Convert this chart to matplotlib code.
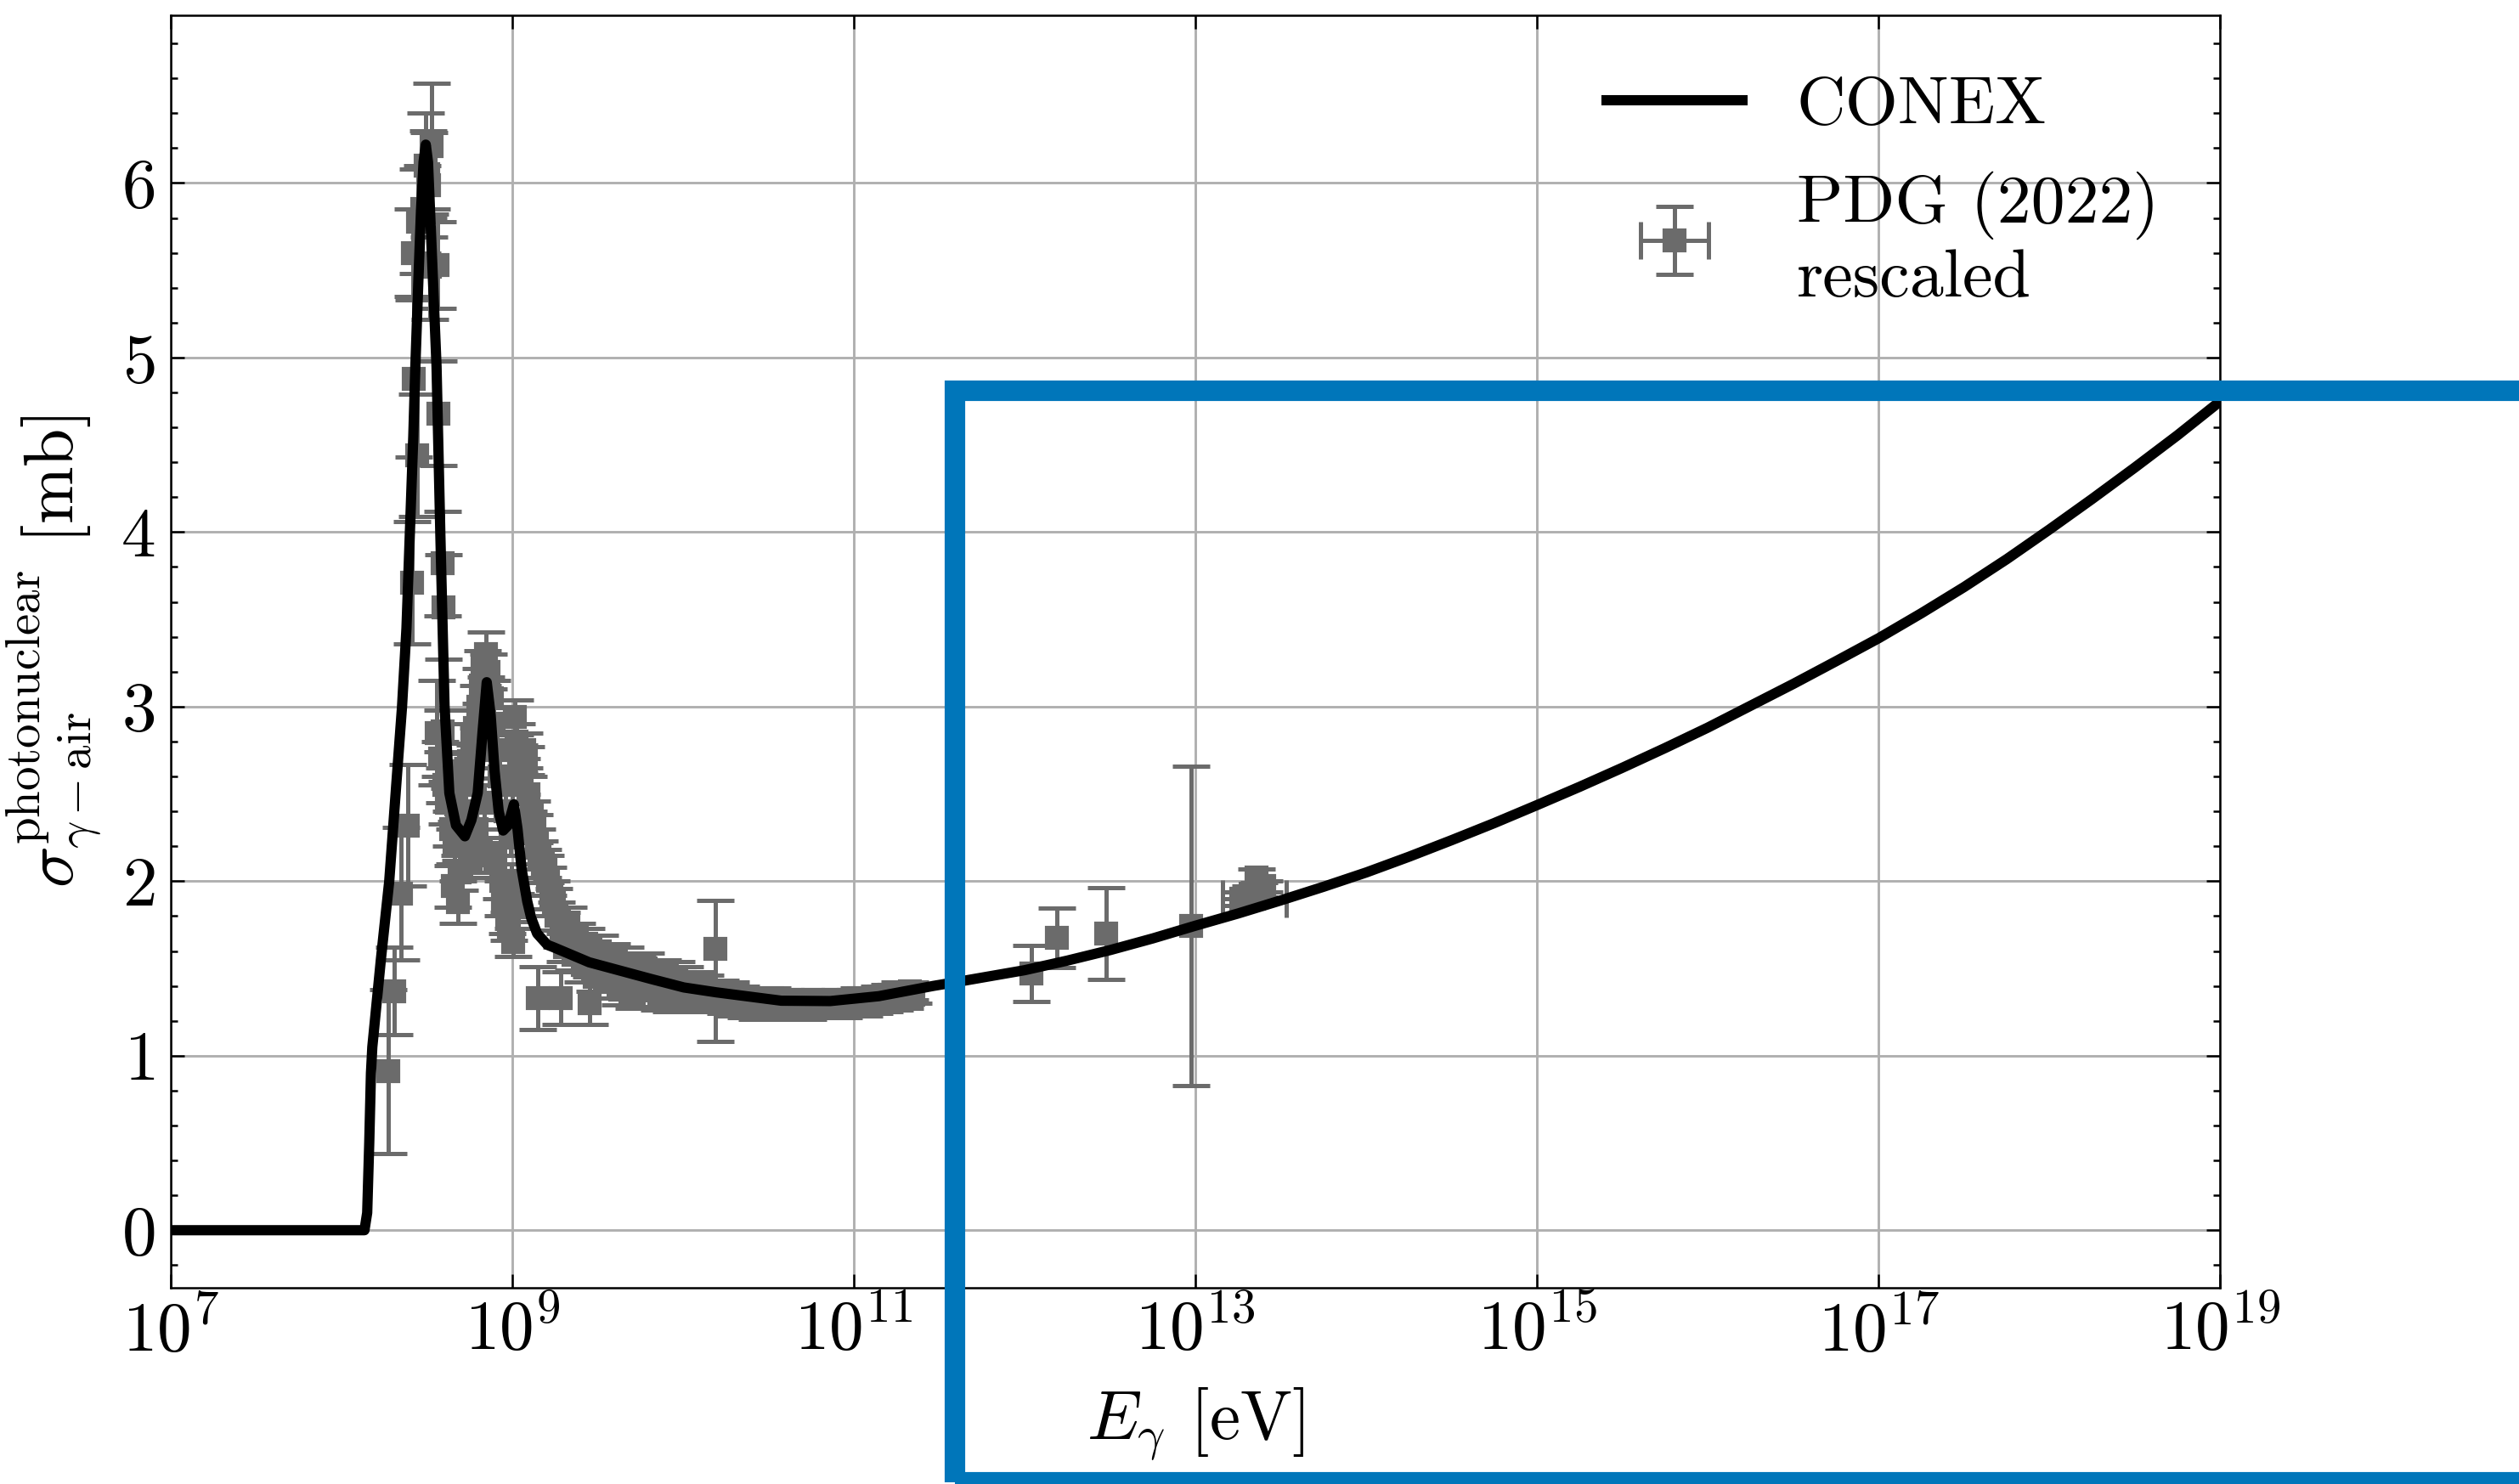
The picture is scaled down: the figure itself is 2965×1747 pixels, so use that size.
import numpy as np
import matplotlib
matplotlib.use("Agg")
import matplotlib.pyplot as plt
from matplotlib.ticker import AutoMinorLocator, FixedLocator, NullLocator
from matplotlib.patches import Rectangle

plt.rcParams.update({
    "font.family": "serif",
    "font.serif": ["cmr10"],
    "mathtext.fontset": "cm",
    "axes.formatter.use_mathtext": True,
    "axes.unicode_minus": False,
    "font.size": 19.5,
})

# ---------------- data ----------------
# CONEX photonuclear cross section (log10 E [eV], sigma [mb])
conex_log10_E = [7.000, 8.134, 8.150, 8.162, 8.172, 8.180, 8.230, 8.279, 8.320, 8.354,
                 8.380, 8.400, 8.420, 8.432, 8.450, 8.465, 8.480, 8.493, 8.506, 8.518,
                 8.537, 8.556, 8.578, 8.603, 8.631, 8.670, 8.722, 8.760, 8.797, 8.825,
                 8.850, 8.873, 8.896, 8.920, 8.946, 8.975, 9.009, 9.030, 9.054, 9.087,
                 9.110, 9.145, 9.205, 9.244, 9.450, 9.814, 10.004, 10.194, 10.575, 10.861,
                 11.146, 11.466, 11.589, 12.00, 12.25, 12.50, 12.75, 13.00, 13.25, 13.50,
                 13.75, 14.00, 14.25, 14.50, 14.75, 15.00, 15.25, 15.50, 15.75, 16.00,
                 16.25, 16.50, 16.75, 17.00, 17.25, 17.50, 17.75, 18.00, 18.25, 18.50,
                 18.75, 19.00]
conex_sigma = [0.00, 0.00, 0.10, 0.50, 0.90, 1.05, 1.55, 2.00, 2.55, 3.00,
               3.45, 4.00, 4.55, 4.95, 5.45, 5.84, 6.12, 6.22, 6.12, 5.84,
               5.40, 4.95, 4.00, 3.00, 2.505, 2.32, 2.257, 2.35, 2.505, 2.85,
               3.14, 2.95, 2.63, 2.40, 2.29, 2.32, 2.44, 2.30, 2.07, 1.885,
               1.79, 1.70, 1.635, 1.62, 1.535, 1.439, 1.391, 1.363, 1.315, 1.313,
               1.341, 1.40, 1.42, 1.49, 1.545, 1.605, 1.672, 1.745, 1.815, 1.89,
               1.968, 2.05, 2.14, 2.235, 2.333, 2.436, 2.541, 2.65, 2.763, 2.88,
               3.005, 3.13, 3.26, 3.392, 3.535, 3.685, 3.845, 4.015, 4.19, 4.37,
               4.555, 4.75]

# PDG (2022) rescaled data (log10 E [eV], sigma [mb], symmetric error [mb])
pdg_log10_E = [
    8.275, 8.310, 8.350, 8.390, 8.412, 8.424, 8.441, 8.419, 8.445, 8.470,
    8.494, 8.505, 8.512, 8.527, 8.515, 8.560, 8.565, 8.590, 8.598,
    8.556, 8.575, 8.590, 8.600, 8.615, 8.630, 8.640, 8.650, 8.660, 8.672,
    8.681, 8.690, 8.697, 8.710, 8.720, 8.735, 8.747, 8.755, 8.765, 8.781,
    8.790, 8.800, 8.814, 8.825, 8.835, 8.847, 8.858, 8.870, 8.880, 8.890,
    8.900, 8.912, 8.925, 8.935, 8.946, 8.958, 8.968, 8.979, 8.990, 8.995,
    9.000, 9.005, 9.013, 9.020, 9.025, 9.040, 9.055, 9.068, 9.079, 9.095,
    9.112, 9.128, 9.146, 9.160, 9.178, 9.195, 9.210, 9.228, 9.245,
    9.148, 9.281, 9.452,
    9.26, 9.29, 9.31, 9.33, 9.36, 9.38, 9.41, 9.43, 9.46, 9.48,
    9.51, 9.53, 9.56, 9.58, 9.61, 9.63, 9.66, 9.68, 9.71, 9.73,
    9.76, 9.78, 9.81, 9.83, 9.86, 9.88, 9.91, 9.93, 9.96, 9.98,
    10.01, 10.04, 10.07, 10.10, 10.13, 10.16, 10.22, 10.25, 10.28, 10.31,
    10.34, 10.37, 10.40, 10.43, 10.46, 10.49, 10.52, 10.55, 10.58, 10.61,
    10.64, 10.67, 10.70, 10.73, 10.76, 10.79, 10.82, 10.85, 10.88, 10.91,
    10.94, 10.97, 11.00, 11.03, 11.06, 11.09, 11.12, 11.15, 11.18, 11.21,
    11.24, 11.27, 11.30, 11.33, 11.35,
    12.037, 12.187, 12.477, 12.975, 13.27, 13.32, 13.355, 13.37, 13.40,
]
pdg_sigma = [
    0.91, 1.37, 1.93, 2.32, 3.71, 4.88, 4.44, 5.60, 5.78, 5.85,
    6.10, 6.05, 5.99, 6.21, 5.52, 5.53, 4.68, 3.82, 3.57,
    2.85, 2.70, 2.86, 2.55, 2.45, 2.63, 2.30, 1.97, 2.20, 2.44,
    1.88, 2.05, 2.22, 2.40, 2.55, 2.35, 2.69, 2.12, 2.80, 2.88,
    2.30, 3.00, 3.12, 3.22, 2.45, 3.30, 3.20, 2.15, 3.05, 2.90,
    2.12, 2.75, 2.60, 2.00, 1.90, 2.40, 1.80, 1.74, 2.25, 2.00,
    2.55, 1.65, 2.94, 1.85, 2.80, 2.70, 2.60, 2.75, 2.69, 2.50,
    2.38, 2.30, 2.22, 2.15, 2.10, 2.07, 2.00, 1.92, 1.88,
    1.33, 1.33, 1.30,
    1.80, 1.72, 1.62, 1.75, 1.58, 1.68, 1.52, 1.64, 1.55, 1.45,
    1.60, 1.50, 1.42, 1.56, 1.47, 1.38, 1.52, 1.44, 1.36, 1.48,
    1.40, 1.50, 1.38, 1.45, 1.35, 1.47, 1.40, 1.33, 1.44, 1.37,
    1.42, 1.34, 1.40, 1.32, 1.38, 1.33, 1.36, 1.30, 1.35, 1.29,
    1.33, 1.28, 1.32, 1.27, 1.31, 1.29, 1.33, 1.28, 1.31, 1.27,
    1.32, 1.29, 1.31, 1.27, 1.32, 1.29, 1.31, 1.28, 1.32, 1.30,
    1.28, 1.32, 1.30, 1.33, 1.29, 1.32, 1.30, 1.34, 1.31, 1.35,
    1.32, 1.36, 1.33, 1.37, 1.35,
    1.47, 1.675, 1.70, 1.745, 1.90, 1.93, 2.02, 1.95, 1.97,
]
pdg_err = [
    0.47, 0.25, 0.38, 0.35, 0.35, 0.45, 0.35, 0.25, 0.30, 0.25,
    0.30, 0.25, 0.30, 0.36, 0.30, 0.25, 0.30, 0.30, 0.30,
    0.30, 0.10, 0.12, 0.10, 0.12, 0.10, 0.10, 0.12, 0.10, 0.10,
    0.12, 0.10, 0.10, 0.10, 0.10, 0.10, 0.10, 0.10, 0.10, 0.10,
    0.10, 0.12, 0.10, 0.10, 0.10, 0.13, 0.10, 0.10, 0.10, 0.10,
    0.10, 0.10, 0.10, 0.10, 0.10, 0.10, 0.10, 0.08, 0.10, 0.10,
    0.10, 0.08, 0.10, 0.08, 0.10, 0.08, 0.10, 0.10, 0.08, 0.10,
    0.08, 0.08, 0.08, 0.08, 0.08, 0.08, 0.08, 0.08, 0.08,
    0.18, 0.15, 0.12,
    0.08, 0.10, 0.08, 0.10, 0.09, 0.08, 0.10, 0.09, 0.10, 0.08,
    0.09, 0.10, 0.09, 0.08, 0.10, 0.09, 0.10, 0.08, 0.09, 0.10,
    0.08, 0.09, 0.10, 0.08, 0.09, 0.08, 0.09, 0.08, 0.10, 0.08,
    0.09, 0.08, 0.08, 0.07, 0.08, 0.07, 0.07, 0.06, 0.07, 0.06,
    0.07, 0.06, 0.06, 0.06, 0.06, 0.06, 0.06, 0.06, 0.06, 0.06,
    0.06, 0.06, 0.06, 0.06, 0.06, 0.06, 0.06, 0.06, 0.06, 0.06,
    0.06, 0.06, 0.06, 0.06, 0.06, 0.06, 0.06, 0.06, 0.06, 0.06,
    0.06, 0.06, 0.06, 0.05, 0.05,
    0.16, 0.17, 0.263, 0.915, 0.04, 0.04, 0.05, 0.04, 0.03,
]
# point with asymmetric vertical error
asym_log10_E = [10.19]
asym_sigma = [1.61]
asym_err_lo = [0.53]
asym_err_hi = [0.28]
# point with horizontal (energy) error, log10 E of centre and bounds
xerr_log10_E = [13.34]
xerr_log10_lo = [13.157]
xerr_log10_hi = [13.53]
xerr_sigma = [1.90]
xerr_yerr = [0.03]

# ---------------- plot ----------------
gray = "#6b6b6b"
fig = plt.figure(figsize=(2965 / 300, 1747 / 300), dpi=300)
ax = fig.add_axes([0.0678, 0.1322, 0.8814 - 0.0678, 0.9898 - 0.1322])

eb_kw = dict(fmt="s", color=gray, ecolor=gray, ms=5.6, mec=gray, mfc=gray,
             elinewidth=1.2, capsize=5.2, capthick=1.2, zorder=2)

E_pdg = np.power(10.0, pdg_log10_E)
ax.errorbar(E_pdg, pdg_sigma, yerr=pdg_err, **eb_kw)
ax.errorbar(np.power(10.0, asym_log10_E), asym_sigma,
            yerr=[asym_err_lo, asym_err_hi], **eb_kw)
Ex = np.power(10.0, xerr_log10_E)
xlo = Ex - np.power(10.0, xerr_log10_lo)
xhi = np.power(10.0, xerr_log10_hi) - Ex
pdg_handle = ax.errorbar(Ex, xerr_sigma, xerr=[xlo, xhi], yerr=xerr_yerr,
                         label="PDG (2022)\nrescaled", **eb_kw)

conex_line, = ax.plot(np.power(10.0, conex_log10_E), conex_sigma, color="black",
                      lw=2.9, zorder=3, label="CONEX", solid_joinstyle="round")

ax.set_xscale("log")
ax.set_xlim(1e7, 1e19)
ax.set_ylim(-0.33, 6.962)
ax.xaxis.set_major_locator(FixedLocator([1e7, 1e9, 1e11, 1e13, 1e15, 1e17, 1e19]))
ax.xaxis.set_minor_locator(NullLocator())
ax.set_yticks([0, 1, 2, 3, 4, 5, 6])
ax.yaxis.set_minor_locator(AutoMinorLocator(5))

ax.grid(True, which="major", color="#b0b0b0", lw=0.7)
ax.tick_params(which="both", direction="in", top=True, right=True, width=0.6)
ax.tick_params(which="major", length=3.8)
ax.tick_params(which="minor", length=1.9)
ax.tick_params(axis="y", which="major", pad=4.5)
ax.tick_params(axis="x", which="major", pad=3.0)
for s in ax.spines.values():
    s.set_linewidth(0.6)

ax.set_xlabel(r"$E_\gamma$ [eV]", labelpad=6)
ax.set_ylabel(r"$\sigma^{\mathrm{photonuclear}}_{\gamma-\mathrm{air}}$ [mb]", labelpad=5)

ax.legend(handles=[conex_line, pdg_handle], labels=["CONEX", "PDG (2022)\nrescaled"],
          loc="upper right", frameon=False, fontsize=19.2)

rect = Rectangle((1123.5 / 2965, 1 - 1745 / 1747), 0.8, (1745 - 459.7) / 1747,
                 transform=fig.transFigure, fill=False, edgecolor="#0076BA",
                 lw=5.8, joinstyle="miter", zorder=20, clip_on=False)
fig.add_artist(rect)

fig.savefig("out.png", dpi=300)
